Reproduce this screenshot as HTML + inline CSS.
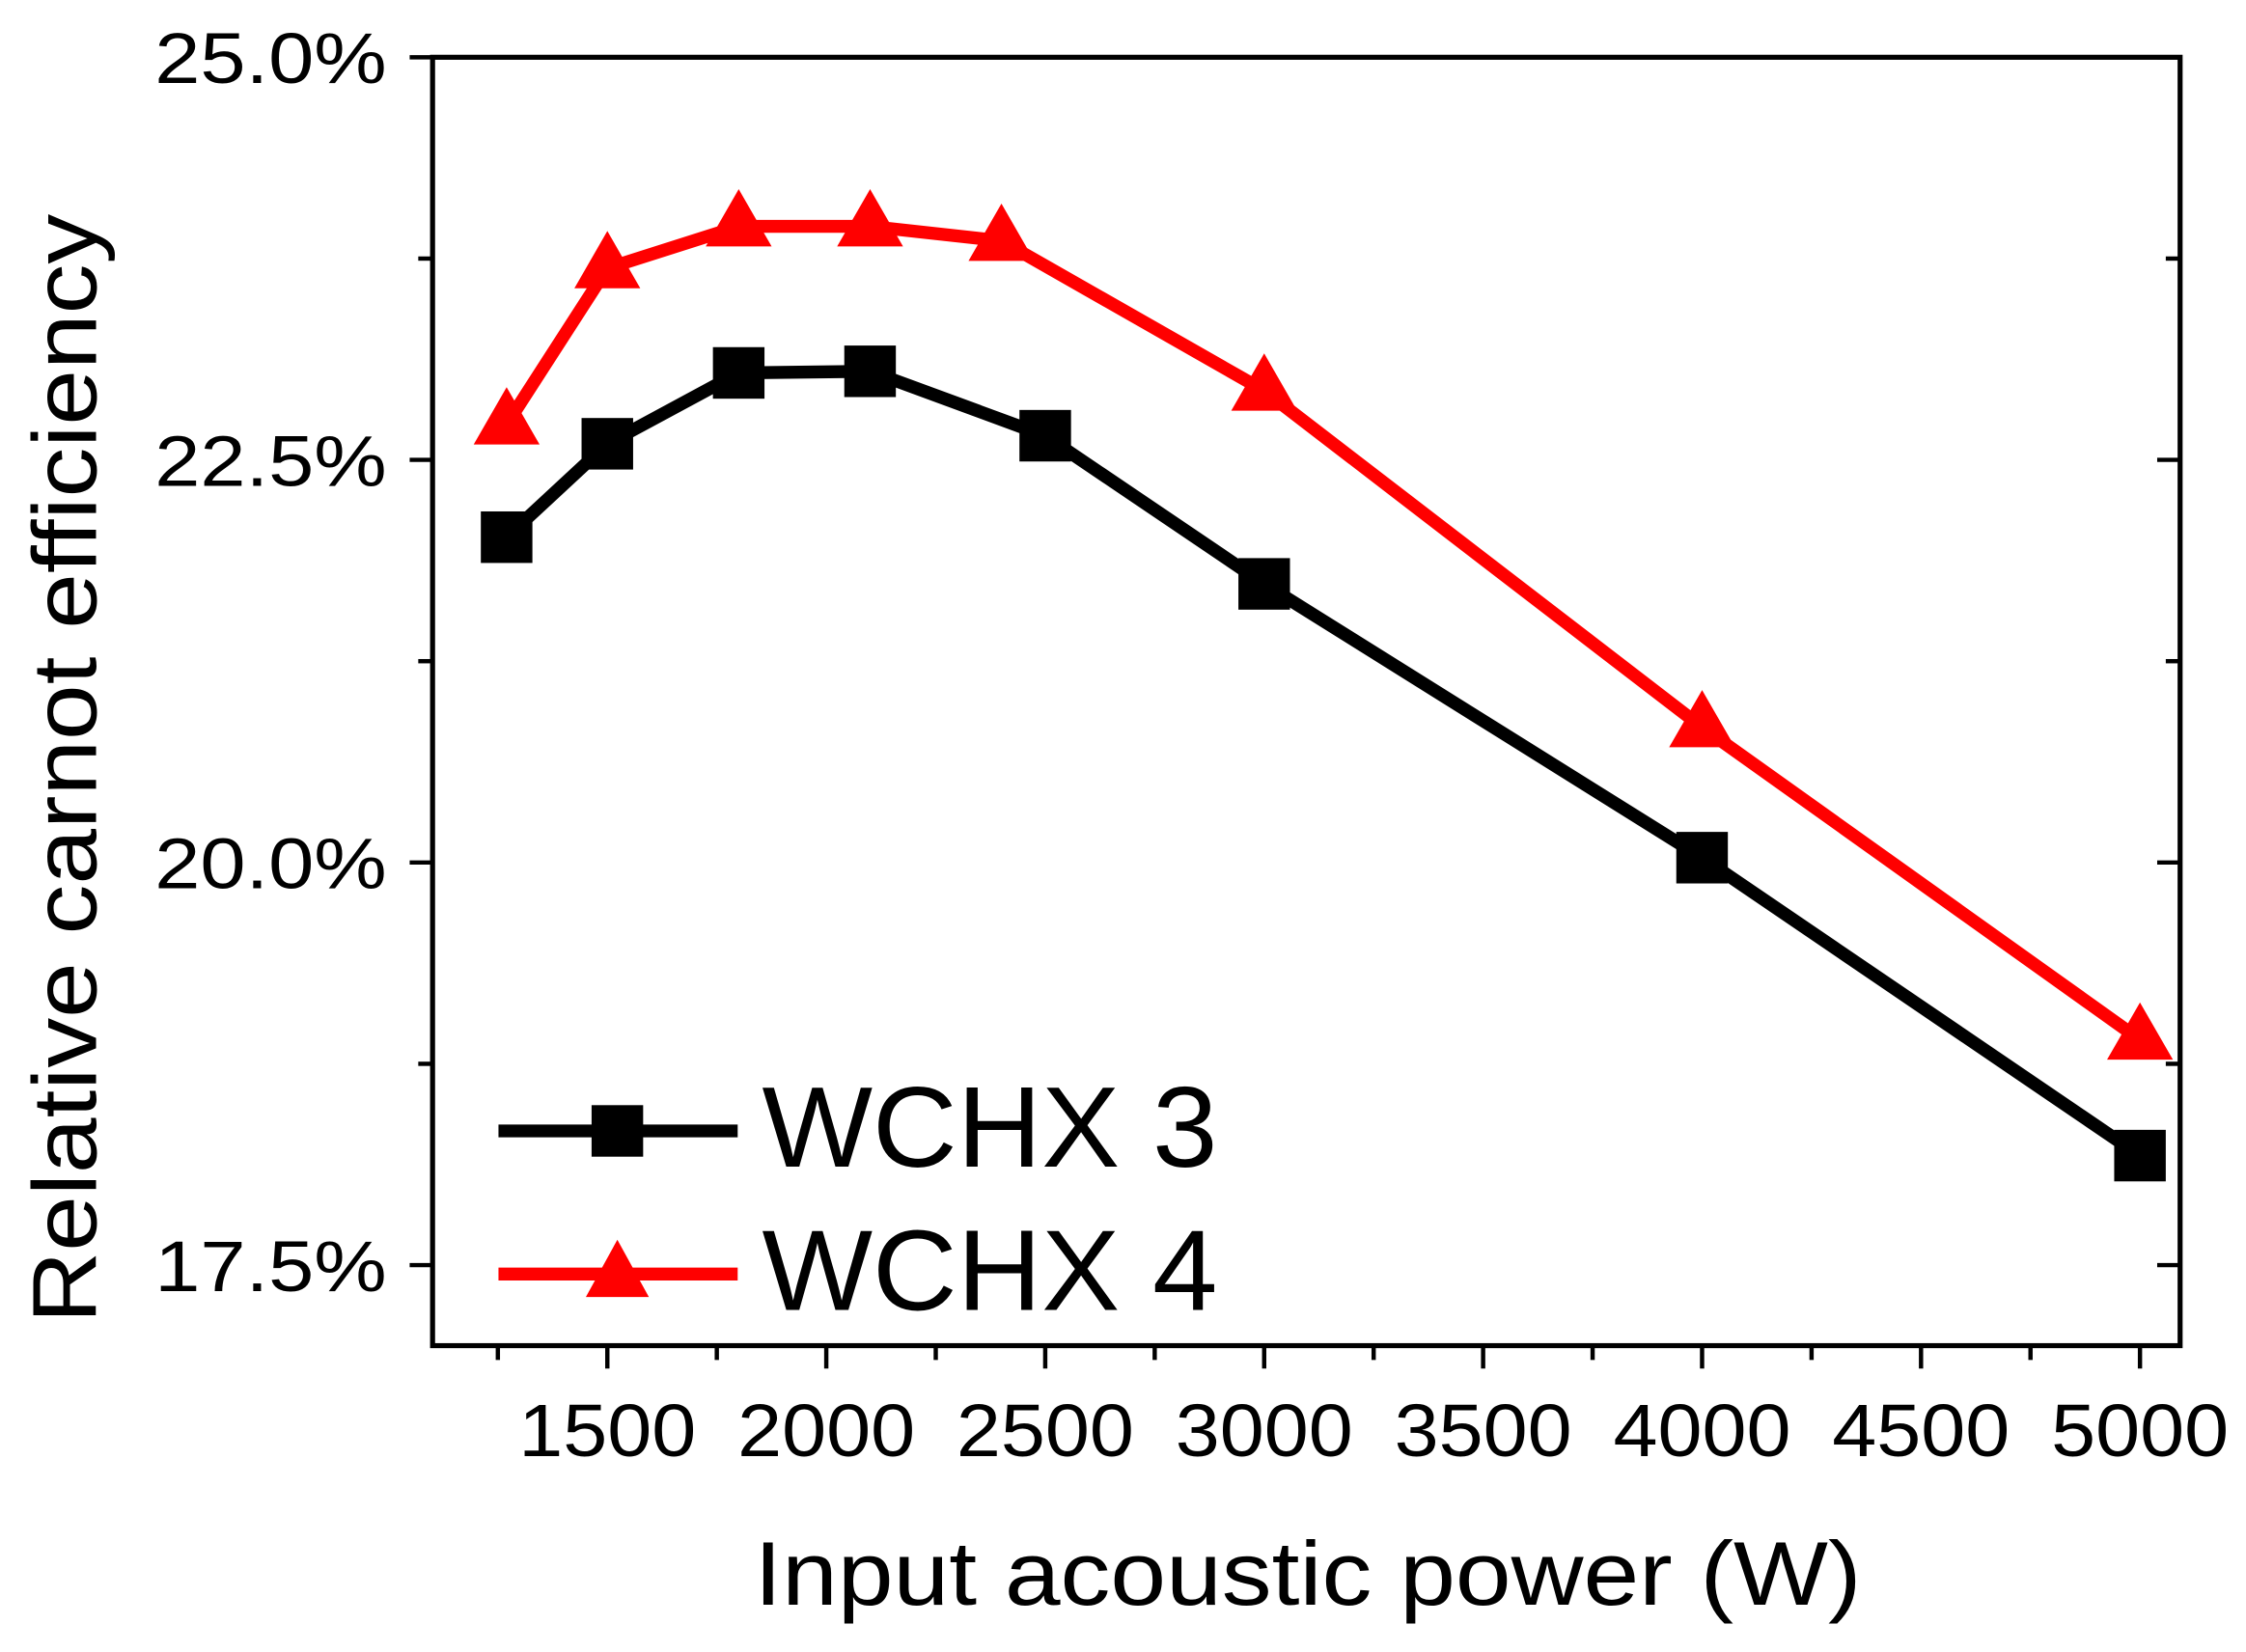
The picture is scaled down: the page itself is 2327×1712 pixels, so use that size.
<!DOCTYPE html>
<html><head><meta charset="utf-8"><style>
html,body{margin:0;padding:0;background:#fff}
svg{display:block}
text{font-family:"Liberation Sans",Arial,sans-serif;fill:#000}
</style></head><body>
<svg id="chart" width="2327" height="1712" viewBox="0 0 1568 1154" preserveAspectRatio="none" xmlns="http://www.w3.org/2000/svg">
<rect x="302" y="40" width="1220" height="900" fill="none" stroke="#000" stroke-width="3.5"/>
<g id="ticks"></g>
<g id="series"></g>
<text x="913" y="1121" font-size="63" text-anchor="middle" textLength="773" lengthAdjust="spacingAndGlyphs">Input acoustic power (W)</text>
<text transform="translate(67,537) rotate(-90)" font-size="63" text-anchor="middle" textLength="775" lengthAdjust="spacingAndGlyphs">Relative carnot efficiency</text>
<g>
<g>
<line x1="348" y1="790" x2="515" y2="790" stroke="#000" stroke-width="9"/>
<rect x="413" y="772" width="36" height="36" fill="#000"/>
<text x="532" y="815" font-size="80" textLength="318" lengthAdjust="spacingAndGlyphs">WCHX 3</text></g>
<g>
<line x1="348" y1="890" x2="515" y2="890" stroke="#f00" stroke-width="9"/>
<polygon points="431,866 453,906 409,906" fill="#f00"/>
<text x="532" y="915" font-size="80" textLength="318" lengthAdjust="spacingAndGlyphs">WCHX 4</text></g>
</g>
</svg>
<script>
const xValsBlack=[1270,1500,1800,2100,2500,3000,4000,5000];
const yValsBlack=[22.02,22.6,23.04,23.05,22.65,21.73,20.03,18.18];
const xValsRed=[1270,1500,1800,2100,2400,3000,4000,5000];
const yValsRed=[22.72,23.69,23.95,23.95,23.86,22.93,20.84,18.9];
const xTickLabels=[1500,2000,2500,3000,3500,4000,4500,5000];
const yTickLabels=[17.5,20.0,22.5,25.0];
const NS="http://www.w3.org/2000/svg";
const X=v=>424+(v-1500)*0.30571;
const Y=v=>40+(25-v)*112.5;
function mk(tag,attrs,parent){const e=document.createElementNS(NS,tag);for(const k in attrs)e.setAttribute(k,attrs[k]);parent.appendChild(e);return e;}
const tg=document.getElementById('ticks');
for(let v=1250;v<=5000;v+=250){
  const major=v%500===0;
  const t=mk('line',{x1:X(v),x2:X(v),y1:940,y2:major?956:950,stroke:'#000','stroke-width':3},tg);
  
  
}
xTickLabels.forEach(v=>{const t=mk('text',{x:X(v),y:1017,'font-size':52,'text-anchor':'middle',textLength:124,lengthAdjust:'spacingAndGlyphs'},tg);t.textContent=v;
  
  });
for(let v=17.5;v<=25.01;v+=1.25){
  const major=Math.abs((v/2.5)-Math.round(v/2.5))<1e-6;
  const l=mk('line',{x1:major?286:292,x2:302,y1:Y(v),y2:Y(v),stroke:'#000','stroke-width':3},tg);
  
  
  const r=mk('line',{x1:1522,x2:major?1506:1512,y1:Y(v),y2:Y(v),stroke:'#000','stroke-width':3},tg);
  
  
}
yTickLabels.forEach(v=>{const t=mk('text',{x:270,y:Y(v)+18,'font-size':50,'text-anchor':'end',textLength:162,lengthAdjust:'spacingAndGlyphs'},tg);t.textContent=v.toFixed(1)+'%';
  
  });
const sg=document.getElementById('series');
function line(xs,ys,color,name){
  const p=mk('polyline',{points:xs.map((x,i)=>X(x)+','+Y(ys[i])).join(' '),fill:'none',stroke:color,'stroke-width':9,'stroke-linejoin':'round'},sg);
  
  
}
line(xValsBlack,yValsBlack,'#000','line-wchx3');
line(xValsRed,yValsRed,'#f00','line-wchx4');
xValsBlack.forEach((x,i)=>{const r=mk('rect',{x:X(x)-18,y:Y(yValsBlack[i])-18,width:36,height:36,fill:'#000'},sg);
  
  });
xValsRed.forEach((x,i)=>{const cx=X(x),cy=Y(yValsRed[i]);
  const p=mk('polygon',{points:`${cx},${cy-26} ${cx+23},${cy+14} ${cx-23},${cy+14}`,fill:'#f00'},sg);
  
  });
</script>
</body></html>
